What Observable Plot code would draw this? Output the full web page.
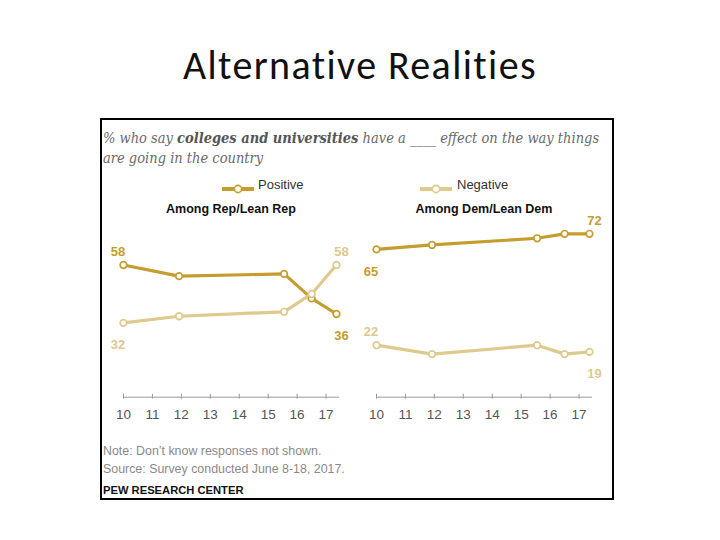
<!DOCTYPE html>
<html>
<head>
<meta charset="utf-8">
<script src="https://cdn.jsdelivr.net/npm/d3@7"></script>
<script src="https://cdn.jsdelivr.net/npm/@observablehq/plot@0.6"></script>
<style>
  body { margin: 0; background: #fff; }
  #page { position: relative; width: 720px; height: 540px; overflow: hidden; background: #fff; }
  #title { position: absolute; left: 0; width: 720px; top: 42px; text-align: center;
           font-family: Calibri, Carlito, Lato, sans-serif; font-size: 40px; line-height: 48px;
           letter-spacing: 1.4px; color: #111; }
  #box { position: absolute; left: 100px; top: 118px; width: 514px; height: 382px;
         border: 2px solid #000; box-sizing: border-box; background: #fff; }
  #subtitle { position: absolute; left: 103px; top: 128px; width: 508px;
              font-family: "DejaVu Serif Condensed", "DejaVu Serif", serif; font-style: italic;
              font-size: 14.5px; line-height: 20px; color: #6a6a6a; white-space: nowrap; }
  #subtitle b { color: #555; }
  .lg { position: absolute; font-family: "Liberation Sans", Arial, sans-serif; font-size: 13px;
        line-height: 14px; color: #333; }
  .sw { position: absolute; }
  #chart { position: absolute; left: 102px; top: 190px; }
  #notes { position: absolute; left: 103px; top: 442px; font-family: "Liberation Sans", Arial, sans-serif;
           font-size: 12.4px; line-height: 18px; color: #8a8a8a; }
  #pew { position: absolute; left: 103px; top: 483px; font-family: "Liberation Sans", Arial, sans-serif;
         font-size: 11.2px; font-weight: bold; line-height: 14px; color: #111; }
</style>
</head>
<body>
<div id="page">
  <div id="title">Alternative Realities</div>
  <div id="box"></div>
  <div id="subtitle">% who say <b>colleges and universities</b> have a ____ effect on the way things<br>are going in the country</div>
  <div id="legend"></div>
  <div id="chart"></div>
  <div id="notes">Note: Don’t know responses not shown.<br>Source: Survey conducted June 8-18, 2017.</div>
  <div id="pew">PEW RESEARCH CENTER</div>
</div>
<script>
// ---- data ----
const surveyDates = [2010.0, 2011.92, 2015.55, 2016.5, 2017.36];
const groups = ["Rep", "Dem"];
const groupTitles = ["Among Rep/Lean Rep", "Among Dem/Lean Dem"];
const seriesNames = ["Positive", "Negative"];
const repPositive = [58, 53, 54, 43, 36];
const repNegative = [32, 35, 37, 45, 58];
const demPositive = [65, 67, 70, 72, 72];
const demNegative = [22, 18, 22, 18, 19];
const tickYears = [2010, 2011, 2012, 2013, 2014, 2015, 2016, 2017];
const tickLabels = ["10", "11", "12", "13", "14", "15", "16", "17"];
const seriesColors = ["#C59C2E", "#DDCA8C"];

// ---- build rows ----
const valuesBy = {
  Rep: {Positive: repPositive, Negative: repNegative},
  Dem: {Positive: demPositive, Negative: demNegative}
};
const rows = [];
for (const g of groups) for (const s of seriesNames) {
  valuesBy[g][s].forEach((v, i) => rows.push({group: g, series: s, date: surveyDates[i], value: v, i}));
}
// end labels: left end placed away from the first segment, right end outside the pair
const n = surveyDates.length;
const labels = [];
for (const g of groups) {
  const [pName, nName] = seriesNames;
  for (const s of seriesNames) {
    const vals = valuesBy[g][s];
    const other = valuesBy[g][s === pName ? nName : pName];
    labels.push({group: g, series: s, date: surveyDates[0], value: vals[0], end: "left",
                 side: vals[1] > vals[0] ? "below" : "above"});
    labels.push({group: g, series: s, date: surveyDates[n - 1], value: vals[n - 1], end: "right",
                 side: vals[n - 1] >= other[n - 1] ? "above" : "below"});
  }
}
const labelMark = (end, side) => Plot.text(labels.filter(d => d.end === end && d.side === side), {
  fx: "group", x: "date", y: "value", text: d => String(d.value), fill: "series",
  dx: end === "left" ? -5.5 : 5, dy: side === "above" ? -13 : 22,
  fontSize: 13, fontWeight: "bold"
});

const chart = Plot.plot({
  width: 509, height: 235,
  marginLeft: 20.3, marginRight: 20, marginTop: 25.5, marginBottom: 28.3,
  style: {fontFamily: "'Liberation Sans', Arial, sans-serif", background: "transparent"},
  fx: {domain: groups, paddingInner: 0.15, paddingOuter: 0, label: null},
  x: {domain: [2010, 2017.43]},
  y: {domain: [0, 80], insetBottom: 3, axis: null},
  color: {domain: seriesNames, range: seriesColors},
  marks: [
    Plot.frame({anchor: "bottom", stroke: "#9a9a9a"}),
    Plot.axisX({ticks: tickYears, tickFormat: d => tickLabels[tickYears.indexOf(d)], tickSize: 5, dy: -3,
                tickPadding: 10, fontSize: 13.5, stroke: "#9a9a9a", fill: "#555", label: null}),
    Plot.axisFx({anchor: "top", tickFormat: g => groupTitles[groups.indexOf(g)], fontSize: 12.5,
                 fontWeight: "bold", fill: "#111", label: null, tickPadding: 3}),
    Plot.lineY(rows, {fx: "group", x: "date", y: "value", z: "series", stroke: "series", strokeWidth: 3.2}),
    Plot.dot(rows, {fx: "group", x: "date", y: "value", stroke: "series", fill: "white", r: 3.3, strokeWidth: 1.7}),
    labelMark("left", "above"), labelMark("left", "below"),
    labelMark("right", "above"), labelMark("right", "below")
  ]
});
document.getElementById("chart").appendChild(chart);

// ---- legend ----
const legend = document.getElementById("legend");
const legendPos = [{sw: 222, tx: 258}, {sw: 420, tx: 457}];
seriesNames.forEach((s, i) => {
  const c = seriesColors[i];
  const sw = document.createElement("div");
  sw.className = "sw";
  sw.style.left = legendPos[i].sw + "px";
  sw.style.top = "180px";
  sw.innerHTML = `<svg width="33" height="10"><line x1="0" x2="32" y1="5" y2="5" stroke="${c}" stroke-width="4"/>` +
                 `<circle cx="16" cy="5" r="3.6" fill="#fff" stroke="${c}" stroke-width="1.6"/></svg>`;
  legend.appendChild(sw);
  const tx = document.createElement("div");
  tx.className = "lg";
  tx.style.left = legendPos[i].tx + "px";
  tx.style.top = "178px";
  tx.textContent = s;
  legend.appendChild(tx);
});
</script>
</body>
</html>
